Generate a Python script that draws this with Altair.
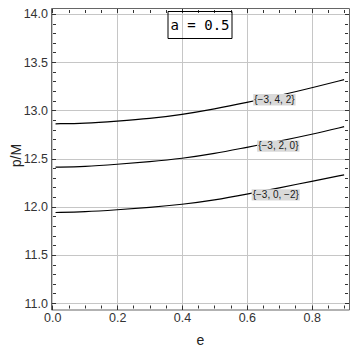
import altair as alt
import pandas as pd

# ---- data ----
e_vals = [0.01, 0.1, 0.2, 0.3, 0.4, 0.5, 0.6, 0.7, 0.8, 0.9]
p_top = [12.86, 12.865, 12.888, 12.913, 12.956, 13.014, 13.081, 13.152, 13.233, 13.318]
p_mid = [12.41, 12.416, 12.44, 12.467, 12.50, 12.55, 12.617, 12.68, 12.75, 12.83]
p_bot = [11.94, 11.946, 11.968, 11.992, 12.023, 12.068, 12.13, 12.195, 12.264, 12.33]
series_names = ["{−3, 4, 2}", "{−3, 2, 0}", "{−3, 0, −2}"]

label_e = [0.685, 0.697, 0.689]
label_p = [13.109, 12.629, 12.123]

x_ticks = [round(0.05 * i, 2) for i in range(19)]
y_ticks = [round(11.0 + 0.1 * i, 1) for i in range(31)]

annotation = "a = 0.5"

# ---- tables ----
rows = []
for name, vals in zip(series_names, [p_top, p_mid, p_bot]):
    for e, p in zip(e_vals, vals):
        rows.append({"series": name, "e": e, "p": p})
df = pd.DataFrame(rows)

char_w = {"{": 3.34, "}": 3.34, "−": 5.84, ",": 2.78, " ": 2.78}
def text_width(s):
    return sum(char_w.get(c, 5.56) for c in s)

lab_rows = []
for t, e, p in zip(series_names, label_e, label_p):
    w = text_width(t) + 2.0
    h = 11.4
    r = h / w
    path = f"M-1,-{r:.3f}L1,-{r:.3f}L1,{r:.3f}L-1,{r:.3f}Z"
    lab_rows.append({"label": t, "e": e, "p": p, "sz": w * w, "shape": path})
lab_df = pd.DataFrame(lab_rows)

# ---- layout ----
W, H = 298, 301.5
PAD = {"left": 43, "top": 0, "right": 3, "bottom": 38}

# ---- scales & axes ----
xs = alt.Scale(domain=[-0.004, 0.915], nice=False, zero=False)
ys = alt.Scale(domain=[10.934, 14.061], nice=False, zero=False)

x_major = "abs(datum.value*5 - round(datum.value*5)) < 0.001"
y_major = "abs(datum.value*2 - round(datum.value*2)) < 0.001"

def cond(test, a, b):
    return {"condition": {"test": test, "value": a}, "value": b}

FONT = "Liberation Sans"
TICK_C = "#333333"
GRID_C = "#c6c6c6"

ax_bottom = alt.Axis(
    orient="bottom", values=x_ticks,
    labelExpr=f"{x_major} ? format(datum.value, '.1f') : ''",
    offset=-4.5, domain=False,
    grid=True, gridColor=GRID_C, gridWidth=1, gridOpacity=cond(x_major, 1, 0),
    tickColor=TICK_C, tickWidth=1, tickSize=cond(x_major, 4.5, 3),
    labelFont=FONT, labelFontSize=12.5, labelColor="#333333", labelPadding=2,
    labelFlush=False, labelOverlap=False, labelBound=False,
    title="e", titleFont=FONT, titleFontSize=14, titleFontWeight="normal",
    titleColor="#222222", titleX=W / 2, titleY=35.5, titleAlign="center",
    titleBaseline="middle",
)
ax_left = alt.Axis(
    orient="left", values=y_ticks,
    labelExpr=f"{y_major} ? format(datum.value, '.1f') : ''",
    offset=-4.5, domain=False,
    grid=True, gridColor=GRID_C, gridWidth=1, gridOpacity=cond(y_major, 1, 0),
    tickColor=TICK_C, tickWidth=1, tickSize=cond(y_major, 4.5, 3),
    labelFont=FONT, labelFontSize=12.5, labelColor="#333333", labelPadding=3.5,
    labelFlush=False, labelOverlap=False, labelBound=False,
    title="p/M", titleFont=FONT, titleFontSize=14, titleFontWeight="normal",
    titleColor="#222222", titleX=-39.5, titleY=147, titleAngle=-90,
    titleAlign="center", titleBaseline="middle",
)
ax_top = alt.Axis(
    orient="top", values=x_ticks, labels=False, grid=False, domain=False,
    offset=-4.5, tickColor=TICK_C, tickWidth=1, tickSize=cond(x_major, 4.5, 3),
    title=None,
)
ax_right = alt.Axis(
    orient="right", values=y_ticks, labels=False, grid=False, domain=False,
    offset=-4.5, tickColor=TICK_C, tickWidth=1, tickSize=cond(y_major, 4.5, 3),
    title=None,
)

lines = alt.Chart(df).mark_line(
    color="black", strokeWidth=1.2, interpolate="basis"
).encode(
    x=alt.X("e:Q", scale=xs, axis=ax_bottom),
    y=alt.Y("p:Q", scale=ys, axis=ax_left),
    detail="series:N",
)

boxes = alt.Chart(lab_df).mark_point(
    filled=True, fill="#d9d9d9", opacity=1, strokeWidth=0
).encode(
    x=alt.X("e:Q", scale=xs, axis=None),
    y=alt.Y("p:Q", scale=ys, axis=None),
    size=alt.Size("sz:Q", scale=None),
    shape=alt.Shape("shape:N", scale=None),
)

labels = alt.Chart(lab_df).mark_text(
    font=FONT, fontSize=10, color="#1a1a1a", baseline="middle", align="center"
).encode(
    x=alt.X("e:Q", scale=xs, axis=ax_top),
    y=alt.Y("p:Q", scale=ys, axis=ax_right),
    text="label:N",
)

anno_df = pd.DataFrame({"t": [annotation]})
anno_box = alt.Chart(anno_df).mark_rect(
    fillOpacity=0, stroke="black", strokeWidth=1
).encode(
    x=alt.value(117), x2=alt.value(181), y=alt.value(3.5), y2=alt.value(30.5)
)
anno_text = alt.Chart(anno_df).mark_text(
    font="DejaVu Sans Mono", fontSize=14, color="black",
    align="center", baseline="middle"
).encode(
    x=alt.value(149), y=alt.value(17.5), text="t:N"
)

chart = alt.layer(lines, boxes, labels, anno_box, anno_text).resolve_axis(
    x="independent", y="independent"
).properties(
    width=W, height=H, autosize="none", padding=PAD,
).configure_view(stroke="#666666", strokeWidth=1)

chart.save("out.html", embed_options={"renderer": "svg", "actions": False})
